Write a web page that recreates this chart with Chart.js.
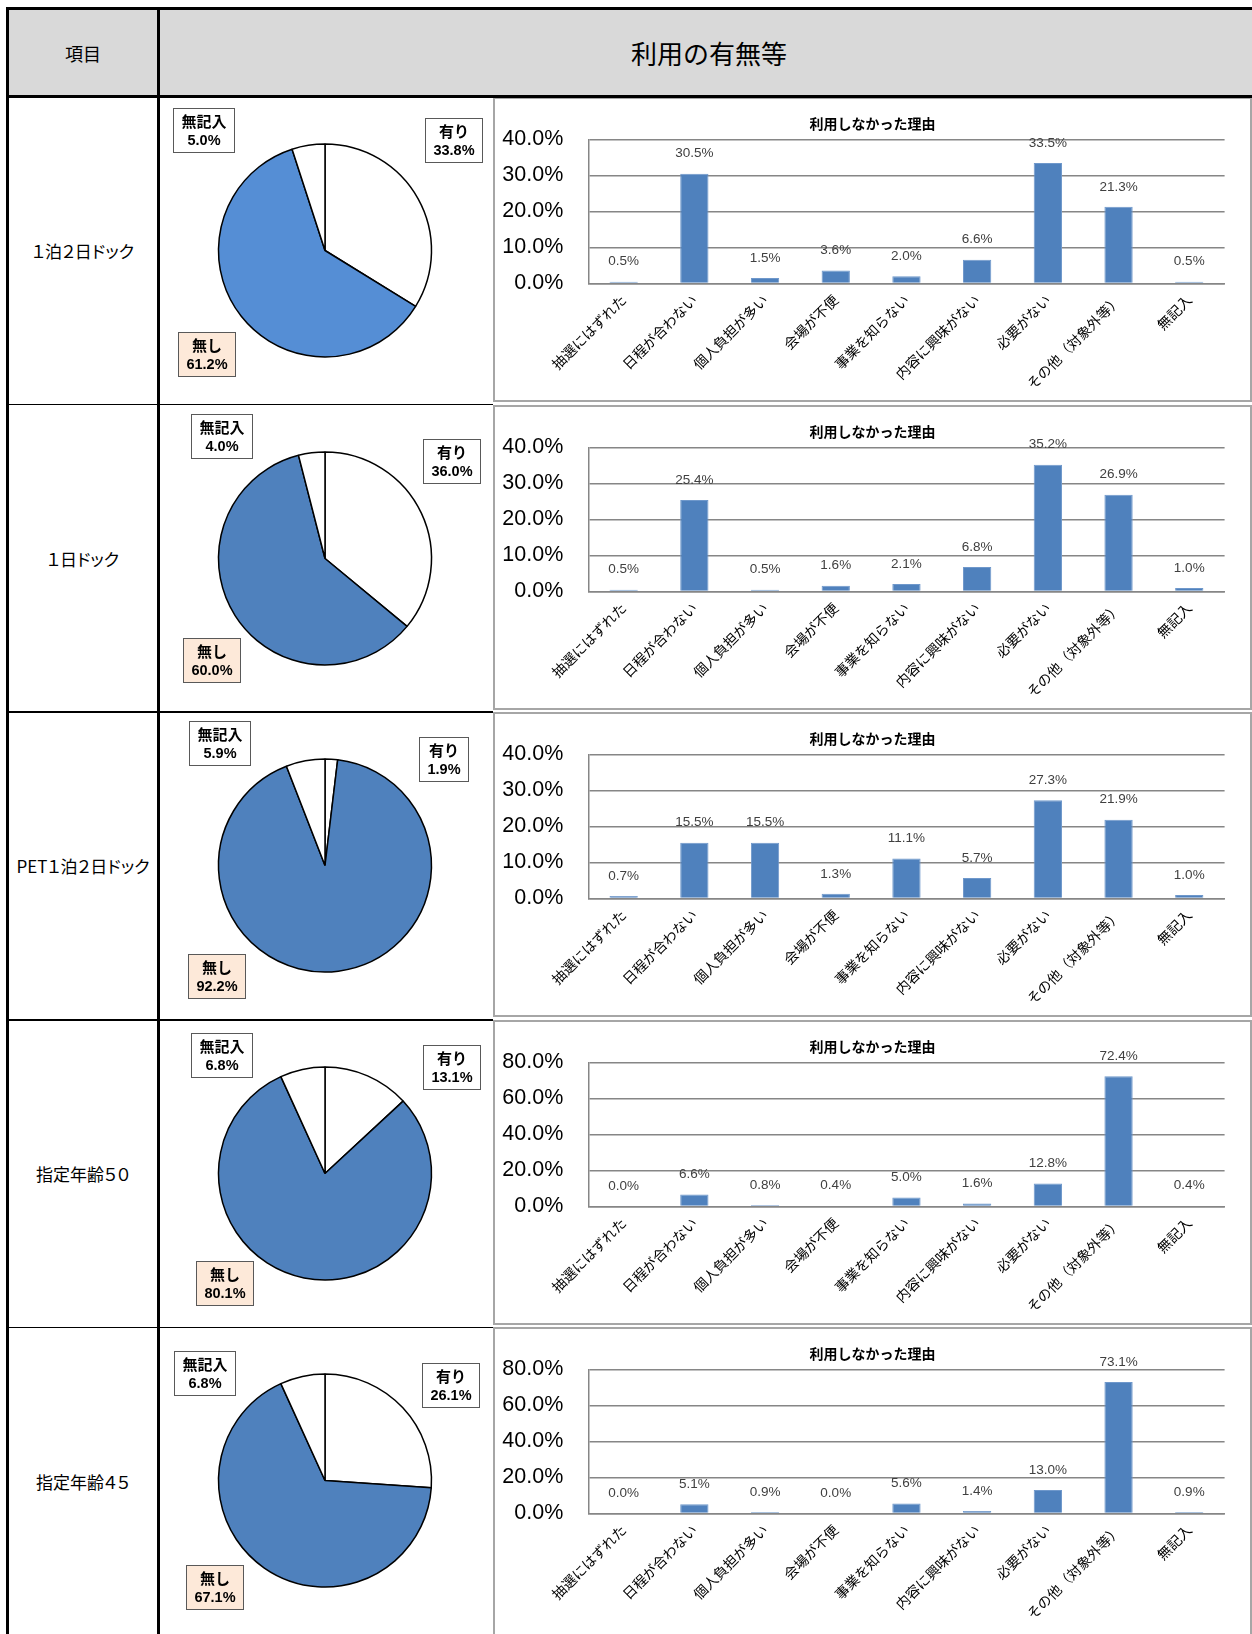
<!DOCTYPE html>
<html>
<head>
<meta charset="utf-8">
<script src="https://cdn.jsdelivr.net/npm/chart.js@4/dist/chart.umd.min.js"></script>
<style>
  body { margin: 0; background: #fff; }
  #page { position: relative; width: 1252px; height: 1634px; overflow: hidden; font-family: "Noto Sans CJK JP", sans-serif; }
  .line { position: absolute; background: #000; z-index: 5; }
  .hdr { position: absolute; display: flex; align-items: center; justify-content: center; color: #000; }
  .rowlabel { position: absolute; left: 9px; width: 148px; display: flex; align-items: center; justify-content: center;
              font-size: 17px; font-feature-settings: "palt"; color: #000; }
  .barbox { position: absolute; left: 493px; width: 759px; box-sizing: border-box;
            border: 2px solid #a6a6a6; background: #fff; }
  .barbox canvas { position: absolute; left: 0; top: 0; }
  .pie { position: absolute; left: 161px; }
</style>
</head>
<body>
<div id="page"></div>
<script>
// row captions (column 1)
const rowLabels = ["１泊２日ドック", "１日ドック", "PET１泊２日ドック", "指定年齢５０", "指定年齢４５"];

// pie: 利用の有無
const pieLabels = ["有り", "無し", "無記入"];
const useDock1n2d = [33.8, 61.2, 5.0];
const useDock1d = [36.0, 60.0, 4.0];
const usePet = [1.9, 92.2, 5.9];
const useAge50 = [13.1, 80.1, 6.8];
const useAge45 = [26.1, 67.1, 6.8];

// bar: 利用しなかった理由
const reasons = ["抽選にはずれた", "日程が合わない", "個人負担が多い", "会場が不便", "事業を知らない",
                 "内容に興味がない", "必要がない", "その他（対象外等）", "無記入"];
const whyDock1n2d = [0.5, 30.5, 1.5, 3.6, 2.0, 6.6, 33.5, 21.3, 0.5];
const whyDock1d = [0.5, 25.4, 0.5, 1.6, 2.1, 6.8, 35.2, 26.9, 1.0];
const whyPet = [0.7, 15.5, 15.5, 1.3, 11.1, 5.7, 27.3, 21.9, 1.0];
const whyAge50 = [0.0, 6.6, 0.8, 0.4, 5.0, 1.6, 12.8, 72.4, 0.4];
const whyAge45 = [0.0, 5.1, 0.9, 0.0, 5.6, 1.4, 13.0, 73.1, 0.9];

// y axis ticks per row
const yMax = [40, 40, 40, 80, 80];
const yStep = [10, 10, 10, 20, 20];

const pieData = [useDock1n2d, useDock1d, usePet, useAge50, useAge45];
const barData = [whyDock1n2d, whyDock1d, whyPet, whyAge50, whyAge45];

// --- layout / styling ---
const ROW0 = 97, ROWH = 307.6;
const rowTop = i => ROW0 + i * ROWH;
const blueFill = ["#558ED5", "#4F81BD", "#4F81BD", "#4F81BD", "#4F81BD"];
// callout top-left corners (page x, y from row top), order as pieLabels
const calloutPos = [
  [[425, 21], [178, 235], [173, 11]],
  [[423, 34], [183, 233], [191, 9]],
  [[419, 25], [188, 242], [189, 9]],
  [[423, 25], [196, 241], [191, 13]],
  [[422, 36], [186, 238], [174, 24]],
];

const page = document.getElementById("page");
function add(tag, cls, css, text) {
  const el = document.createElement(tag);
  if (cls) el.className = cls;
  Object.assign(el.style, css);
  if (text) el.textContent = text;
  page.appendChild(el);
  return el;
}
const px = v => v + "px";

// header
add("div", "", { position: "absolute", left: "9px", top: "10px", width: "1243px", height: "85px", background: "#D9D9D9" });
add("div", "hdr", { left: "9px", top: "10px", width: "148px", height: "85px", fontSize: "18px" }, "項目");
add("div", "hdr", { left: "160px", top: "10px", width: "1098px", height: "85px", fontSize: "26px" }, "利用の有無等");

Chart.defaults.devicePixelRatio = 1;

const pieCallouts = {
  id: "pieCallouts",
  afterDraw(chart, args, opts) {
    const ctx = chart.ctx;
    ctx.save();
    opts.pos.forEach((p, k) => {
      const l1 = chart.data.labels[k];
      const l2 = chart.data.datasets[0].data[k].toFixed(1) + "%";
      const f1 = 'bold 15px "Noto Sans CJK JP"', f2 = 'bold 14.5px "Liberation Sans"';
      ctx.font = f1; const w1 = ctx.measureText(l1).width;
      ctx.font = f2; const w2 = ctx.measureText(l2).width;
      const w = Math.round(Math.max(w1, w2) + 16), h = 44;
      const x = Math.round(p[0] - 161) + 0.5, y = Math.round(p[1] - 1) + 0.5;
      ctx.fillStyle = k === 1 ? "#FDE9D9" : "#fff";
      ctx.fillRect(x, y, w, h);
      ctx.strokeStyle = "#595959"; ctx.lineWidth = 1;
      ctx.strokeRect(x, y, w, h);
      ctx.fillStyle = "#000"; ctx.textAlign = "center"; ctx.textBaseline = "middle";
      ctx.font = f1; ctx.fillText(l1, x + w / 2, y + 13);
      ctx.font = f2; ctx.fillText(l2, x + w / 2, y + 32);
    });
    ctx.restore();
  }
};

const barTitle = {
  id: "barTitle",
  afterDraw(chart) {
    const ctx = chart.ctx;
    ctx.save();
    ctx.font = 'bold 14px "Noto Sans CJK JP"';
    ctx.fillStyle = "#000"; ctx.textAlign = "center"; ctx.textBaseline = "middle";
    ctx.fillText("利用しなかった理由", chart.width / 2, 25);
    ctx.restore();
  }
};

const barValues = {
  id: "barValues",
  afterDatasetsDraw(chart) {
    const ctx = chart.ctx;
    ctx.save();
    ctx.font = '13.5px "Liberation Sans"';
    ctx.fillStyle = "#404040"; ctx.textAlign = "center"; ctx.textBaseline = "middle";
    chart.getDatasetMeta(0).data.forEach((bar, i) => {
      ctx.fillText(chart.data.datasets[0].data[i].toFixed(1) + "%", bar.x, bar.y - 20);
    });
    ctx.restore();
  }
};

for (let i = 0; i < 5; i++) {
  const top = rowTop(i);

  add("div", "rowlabel", { top: px(top), height: px(ROWH) }, rowLabels[i]);

  // pie
  const pc = add("canvas", "pie", { top: px(top + 1) });
  pc.width = 331; pc.height = 305;
  new Chart(pc, {
    type: "pie",
    data: {
      labels: pieLabels,
      datasets: [{
        data: pieData[i],
        backgroundColor: ["#fff", blueFill[i], "#fff"],
        borderColor: "#000",
        borderWidth: 1.5,
      }]
    },
    options: {
      responsive: false, animation: false,
      radius: 106.5,
      layout: { padding: { right: 3 } },
      plugins: { legend: { display: false }, tooltip: { enabled: false }, pieCallouts: { pos: calloutPos[i] } }
    },
    plugins: [pieCallouts]
  });

  // bar chart box (last one runs off the page bottom)
  const box = add("div", "barbox", { top: px(top), height: px(i === 4 ? 315 : 305) });
  const bc = document.createElement("canvas");
  bc.width = 755; bc.height = 301;
  box.appendChild(bc);
  new Chart(bc, {
    type: "bar",
    data: {
      labels: reasons,
      datasets: [{
        data: barData[i],
        backgroundColor: "#4F81BD",
        borderColor: "#6F98CB",
        borderWidth: 1,
        barPercentage: 0.4,
        categoryPercentage: 1,
      }]
    },
    options: {
      responsive: false, animation: false,
      layout: { padding: { top: 40.5, right: 25.4, left: 0, bottom: 0 } },
      plugins: { legend: { display: false }, tooltip: { enabled: false } },
      scales: {
        x: {
          grid: { display: false, drawTicks: false },
          border: { color: "#868686", width: 1.5 },
          ticks: { font: { family: '"Noto Sans CJK JP"', size: 14 }, color: "#000",
                   maxRotation: 45, minRotation: 45, autoSkip: false, padding: 8 },
          afterFit: s => { s.height = 116.5; }
        },
        y: {
          min: 0, max: yMax[i],
          ticks: { stepSize: yStep[i], callback: v => v.toFixed(1) + "%",
                   font: { family: '"Liberation Sans"', size: 21.5 }, color: "#000", padding: 25 },
          grid: { color: "#868686", lineWidth: 1.5, drawTicks: false },
          border: { color: "#868686", width: 1.5 },
          afterFit: s => { s.width = 93.3; }
        }
      }
    },
    plugins: [barTitle, barValues]
  });
}

// table rules
add("div", "line", { left: "6px", top: "7px", width: "1246px", height: "3px" });
add("div", "line", { left: "6px", top: "7px", width: "3px", height: "1627px" });
add("div", "line", { left: "157px", top: "7px", width: "3px", height: "1627px" });
add("div", "line", { left: "6px", top: "95px", width: "1246px", height: "3px" });
for (let i = 1; i < 5; i++) {
  add("div", "line", { left: "6px", top: px(rowTop(i) - 0.75), width: "487px", height: "1.5px" });
}
</script>
</body>
</html>
